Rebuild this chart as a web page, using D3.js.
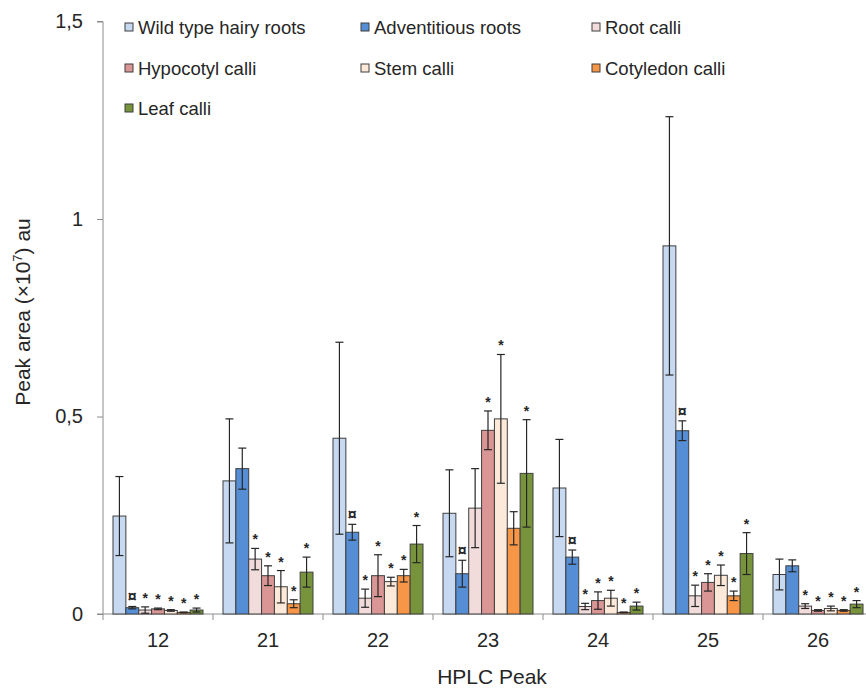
<!DOCTYPE html>
<html>
<head>
<meta charset="utf-8">
<script src="https://cdn.jsdelivr.net/npm/d3@7"></script>
<style>
  html, body { margin: 0; padding: 0; background: #fff; }
  svg { display: block; font-family: Arial, "Liberation Sans", sans-serif; }
</style>
</head>
<body>
<svg id="chart" width="866" height="689"></svg>
<script>
// HPLC peaks (x categories)
const peaks = ["12", "21", "22", "23", "24", "25", "26"];

// Series names and fills
const seriesNames = ["Wild type hairy roots", "Adventitious roots", "Root calli",
  "Hypocotyl calli", "Stem calli", "Cotyledon calli", "Leaf calli"];
const seriesColors = ["#c6d9f1", "#558ed5", "#f2dcdb", "#d99694", "#fde9d9", "#f79646", "#77933c"];

// Mean peak area (x10^7 au) per peak, one array per tissue
const wildType     = [0.248, 0.337, 0.445, 0.255, 0.319, 0.932, 0.100];
const adventitious = [0.016, 0.368, 0.207, 0.102, 0.144, 0.464, 0.122];
const rootCalli    = [0.010, 0.139, 0.040, 0.268, 0.019, 0.046, 0.020];
const hypocotyl    = [0.013, 0.097, 0.097, 0.465, 0.034, 0.080, 0.009];
const stemCalli    = [0.009, 0.069, 0.082, 0.494, 0.040, 0.098, 0.014];
const cotyledon    = [0.004, 0.026, 0.097, 0.217, 0.004, 0.046, 0.009];
const leafCalli    = [0.010, 0.106, 0.177, 0.356, 0.020, 0.153, 0.025];

// Standard deviations
const wildTypeErr     = [0.100, 0.157, 0.243, 0.110, 0.123, 0.327, 0.039];
const adventitiousErr = [0.003, 0.052, 0.020, 0.034, 0.018, 0.025, 0.015];
const rootCalliErr    = [0.008, 0.027, 0.023, 0.100, 0.008, 0.027, 0.006];
const hypocotylErr    = [0.002, 0.025, 0.053, 0.049, 0.022, 0.022, 0.002];
const stemCalliErr    = [0.002, 0.041, 0.011, 0.163, 0.020, 0.026, 0.006];
const cotyledonErr    = [0.001, 0.010, 0.016, 0.042, 0.001, 0.012, 0.002];
const leafCalliErr    = [0.005, 0.038, 0.047, 0.136, 0.010, 0.053, 0.009];

// Significance marks: "¤" vs wild type, "*" vs adventitious roots
const wildTypeMark     = ["", "", "", "", "", "", ""];
const adventitiousMark = ["¤", "", "¤", "¤", "¤", "¤", ""];
const rootCalliMark    = ["*", "*", "*", "", "*", "*", "*"];
const hypocotylMark    = ["*", "*", "*", "*", "*", "*", "*"];
const stemCalliMark    = ["*", "*", "*", "*", "*", "*", "*"];
const cotyledonMark    = ["*", "*", "*", "", "*", "*", "*"];
const leafCalliMark    = ["*", "*", "*", "*", "*", "*", "*"];

const yTicks = [0, 0.5, 1, 1.5];
const yTickLabels = ["0", "0,5", "1", "1,5"];

const values = [wildType, adventitious, rootCalli, hypocotyl, stemCalli, cotyledon, leafCalli];
const errors = [wildTypeErr, adventitiousErr, rootCalliErr, hypocotylErr, stemCalliErr, cotyledonErr, leafCalliErr];
const marks  = [wildTypeMark, adventitiousMark, rootCalliMark, hypocotylMark, stemCalliMark, cotyledonMark, leafCalliMark];

const svg = d3.select("#chart");
const plotLeft = 103, plotRight = 873, plotTop = 21.5, plotBottom = 614;
const textColor = "#262626";
const axisColor = "#8c8c8c";

const x = d3.scaleBand().domain(peaks).range([plotLeft, plotRight]).padding(0);
const xs = d3.scaleBand().domain(d3.range(seriesNames.length)).range([10, 100]).padding(0);
const y = d3.scaleLinear().domain([0, 1.5]).range([plotBottom, plotTop]);

// Flatten for drawing
const rows = [];
peaks.forEach((p, gi) => {
  seriesNames.forEach((s, si) => {
    rows.push({ peak: p, si, v: values[si][gi], e: errors[si][gi], m: marks[si][gi] });
  });
});

// Y axis
const yAxis = svg.append("g")
  .attr("transform", `translate(${plotLeft},0)`)
  .call(d3.axisLeft(y).tickValues(yTicks)
    .tickFormat((d, i) => yTickLabels[i]).tickSize(6).tickPadding(14));
yAxis.select(".domain").attr("stroke", axisColor).attr("d", `M-6,${plotTop}H0V${plotBottom}`);
yAxis.selectAll(".tick line").attr("stroke", axisColor);
yAxis.selectAll(".tick text").attr("fill", textColor).style("font-size", "20px");

// X axis
const xAxis = svg.append("g")
  .attr("transform", `translate(0,${plotBottom})`)
  .call(d3.axisBottom(x).tickSize(0).tickPadding(19));
xAxis.select(".domain").attr("stroke", axisColor).attr("d", `M${plotLeft - 6},0H${plotRight}`);
xAxis.selectAll(".tick text").attr("fill", textColor).style("font-size", "20px");
// Category boundary ticks
svg.append("g").selectAll("line")
  .data(peaks.concat(["end"]))
  .join("line")
  .attr("x1", (d, i) => plotLeft + i * x.bandwidth())
  .attr("x2", (d, i) => plotLeft + i * x.bandwidth())
  .attr("y1", plotBottom).attr("y2", plotBottom + 6)
  .attr("stroke", axisColor);

// Bars
svg.append("g").selectAll("rect")
  .data(rows)
  .join("rect")
  .attr("x", d => x(d.peak) + xs(d.si))
  .attr("width", xs.bandwidth())
  .attr("y", d => y(d.v))
  .attr("height", d => y(0) - y(d.v))
  .attr("fill", d => seriesColors[d.si])
  .attr("stroke", "#3f3f3f")
  .attr("stroke-width", 1);

// Error bars
const eb = svg.append("g").attr("stroke", "#262626").attr("stroke-width", 1.2);
rows.forEach(d => {
  const cx = x(d.peak) + xs(d.si) + xs.bandwidth() / 2;
  const y1 = y(d.v + d.e), y2 = y(Math.max(0, d.v - d.e));
  eb.append("line").attr("x1", cx).attr("x2", cx).attr("y1", y1).attr("y2", y2);
  eb.append("line").attr("x1", cx - 4).attr("x2", cx + 4).attr("y1", y1).attr("y2", y1);
  eb.append("line").attr("x1", cx - 4).attr("x2", cx + 4).attr("y1", y2).attr("y2", y2);
});

// Significance marks
svg.append("g").selectAll("text")
  .data(rows.filter(d => d.m))
  .join("text")
  .attr("x", d => x(d.peak) + xs(d.si) + xs.bandwidth() / 2)
  .attr("y", d => y(d.v + d.e) - (d.m === "*" ? 4 : 4))
  .attr("text-anchor", "middle")
  .attr("fill", textColor)
  .style("font-size", d => d.m === "*" ? "14px" : "16px")
  .style("font-weight", "bold")
  .text(d => d.m);

// Legend
const legendCols = [125, 361, 592];
const legendRows = [27, 68, 108];
const legend = svg.append("g");
seriesNames.forEach((name, i) => {
  const lx = legendCols[i % 3], ly = legendRows[Math.floor(i / 3)];
  legend.append("rect")
    .attr("x", lx).attr("y", ly - 4).attr("width", 8).attr("height", 8)
    .attr("fill", seriesColors[i]).attr("stroke", "#3f3f3f").attr("stroke-width", 1);
  legend.append("text")
    .attr("x", lx + 13).attr("y", ly + 7)
    .attr("fill", textColor).style("font-size", "18.5px")
    .text(name);
});

// Axis titles
svg.append("text")
  .attr("x", 492).attr("y", 684)
  .attr("text-anchor", "middle").attr("fill", textColor).style("font-size", "21px")
  .text("HPLC Peak");

const yt = svg.append("text")
  .attr("transform", "translate(30,312) rotate(-90)")
  .attr("text-anchor", "middle").attr("fill", textColor).style("font-size", "21px");
yt.append("tspan").text("Peak area (×10");
yt.append("tspan").attr("dy", -8).style("font-size", "13px").text("7");
yt.append("tspan").attr("dy", 8).text(") au");
</script>
</body>
</html>
